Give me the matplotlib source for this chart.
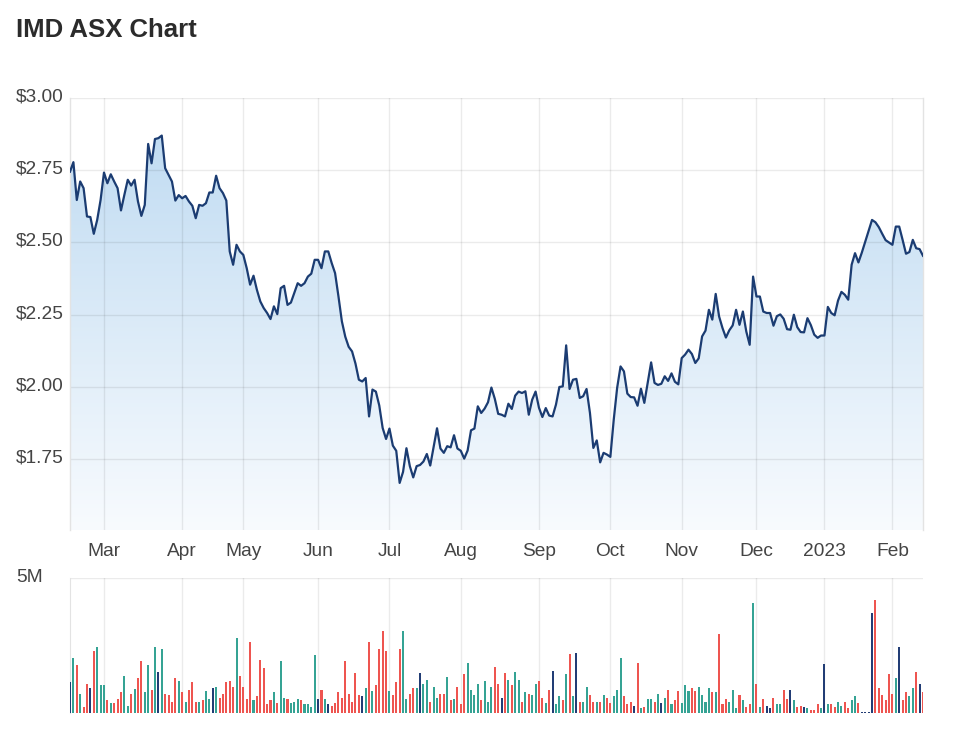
import numpy as np
import pandas as pd
import matplotlib
matplotlib.use("Agg")
import matplotlib.pyplot as plt
from matplotlib.colors import LinearSegmentedColormap
from matplotlib.transforms import blended_transform_factory

plt.rcParams['font.family'] = ['Liberation Sans', 'DejaVu Sans']

# trading calendar (ASX), one point per trading day
start_day = "2022-02-15"
end_day = "2023-02-14"
holidays = ["2022-04-15", "2022-04-18", "2022-04-25", "2022-06-13", "2022-09-22",
            "2022-12-26", "2022-12-27", "2023-01-02", "2023-01-26"]

# closing price, $
price = [
    2.745, 2.778, 2.647, 2.711, 2.688, 2.590, 2.588, 2.530, 2.578, 2.647,
    2.742, 2.705, 2.736, 2.711, 2.688, 2.611, 2.665, 2.717, 2.697, 2.717,
    2.642, 2.592, 2.630, 2.841, 2.774, 2.858, 2.861, 2.870, 2.757, 2.734,
    2.711, 2.645, 2.664, 2.653, 2.661, 2.642, 2.627, 2.584, 2.630, 2.627,
    2.636, 2.673, 2.673, 2.731, 2.688, 2.671, 2.645, 2.469, 2.423, 2.492,
    2.469, 2.457, 2.411, 2.354, 2.385, 2.336, 2.296, 2.273, 2.256, 2.235,
    2.279, 2.252, 2.342, 2.350, 2.284, 2.292, 2.325, 2.359, 2.350, 2.359,
    2.382, 2.392, 2.440, 2.440, 2.411, 2.469, 2.469, 2.429, 2.394, 2.313,
    2.227, 2.174, 2.139, 2.123, 2.081, 2.025, 2.019, 2.031, 1.898, 1.991,
    1.984, 1.936, 1.858, 1.820, 1.856, 1.797, 1.779, 1.668, 1.706, 1.788,
    1.726, 1.687, 1.726, 1.730, 1.742, 1.768, 1.728, 1.793, 1.857, 1.787,
    1.772, 1.795, 1.791, 1.833, 1.787, 1.779, 1.752, 1.780, 1.850, 1.856,
    1.933, 1.910, 1.925, 1.947, 1.998, 1.959, 1.907, 1.904, 1.898, 1.942,
    1.924, 1.970, 1.984, 1.979, 1.985, 1.904, 1.956, 1.984, 1.928, 1.896,
    1.927, 1.901, 1.898, 1.939, 2.000, 2.002, 2.144, 1.993, 2.025, 2.028,
    1.962, 1.968, 1.993, 1.910, 1.789, 1.815, 1.739, 1.772, 1.766, 1.758,
    1.887, 1.997, 2.071, 2.054, 1.977, 1.965, 1.964, 1.935, 1.994, 1.945,
    2.016, 2.085, 2.014, 2.007, 2.011, 2.037, 2.021, 2.047, 2.018, 2.009,
    2.100, 2.112, 2.129, 2.114, 2.083, 2.099, 2.175, 2.195, 2.267, 2.233,
    2.322, 2.244, 2.204, 2.171, 2.196, 2.213, 2.267, 2.215, 2.261, 2.192,
    2.146, 2.382, 2.313, 2.313, 2.261, 2.256, 2.256, 2.212, 2.245, 2.251,
    2.236, 2.200, 2.198, 2.250, 2.207, 2.190, 2.189, 2.238, 2.214, 2.181,
    2.170, 2.178, 2.178, 2.277, 2.256, 2.248, 2.299, 2.329, 2.319, 2.302,
    2.423, 2.463, 2.431, 2.465, 2.503, 2.541, 2.578, 2.570, 2.553, 2.530,
    2.508, 2.500, 2.492, 2.555, 2.555, 2.509, 2.461, 2.467, 2.509, 2.480,
    2.477, 2.454,
]

# daily volume, millions of shares
volume_m = [
    1.13, 2.02, 1.77, 0.72, 0.21, 1.07, 0.92, 2.28, 2.43, 1.03,
    1.03, 0.47, 0.36, 0.36, 0.51, 0.77, 1.36, 0.27, 0.72, 0.88,
    1.28, 1.92, 0.77, 1.77, 0.87, 2.43, 1.51, 2.38, 0.72, 0.67,
    0.42, 1.28, 1.18, 0.77, 0.42, 0.87, 1.13, 0.42, 0.42, 0.47,
    0.82, 0.51, 0.92, 0.97, 0.57, 0.72, 1.13, 1.18, 0.97, 2.78,
    1.38, 0.97, 0.51, 2.63, 0.47, 0.62, 1.98, 1.67, 0.32, 0.47,
    0.77, 0.37, 1.92, 0.57, 0.52, 0.37, 0.42, 0.52, 0.47, 0.32,
    0.32, 0.22, 2.13, 0.52, 0.87, 0.52, 0.32, 0.27, 0.37, 0.77,
    0.57, 1.92, 0.72, 0.42, 1.48, 0.67, 0.62, 0.92, 2.63, 0.82,
    1.02, 2.38, 3.03, 2.28, 0.82, 0.67, 1.13, 2.38, 3.03, 0.52,
    0.72, 0.92, 0.92, 1.48, 1.07, 1.23, 0.42, 0.97, 0.57, 0.72,
    0.72, 1.33, 0.47, 0.52, 0.97, 0.32, 1.43, 1.87, 0.87, 0.67,
    1.07, 0.47, 1.18, 0.42, 0.97, 1.72, 1.08, 0.57, 1.48, 1.23,
    1.03, 1.53, 1.23, 0.42, 0.77, 0.72, 0.67, 1.08, 1.18, 0.57,
    0.37, 0.87, 1.57, 0.32, 0.62, 0.47, 1.43, 2.18, 0.62, 2.22,
    0.42, 0.42, 0.97, 0.67, 0.42, 0.42, 0.42, 0.67, 0.57, 0.37,
    0.62, 0.87, 2.02, 0.62, 0.32, 0.42, 0.27, 1.87, 0.17, 0.22,
    0.52, 0.52, 0.42, 0.72, 0.37, 0.57, 0.87, 0.32, 0.47, 0.82,
    0.37, 1.02, 0.82, 0.92, 0.82, 0.97, 0.67, 0.42, 0.92, 0.77,
    0.77, 2.93, 0.32, 0.52, 0.42, 0.87, 0.17, 0.67, 0.47, 0.22,
    0.32, 4.09, 1.08, 0.22, 0.52, 0.27, 0.17, 0.57, 0.32, 0.32,
    0.87, 0.52, 0.87, 0.47, 0.22, 0.27, 0.22, 0.17, 0.12, 0.12,
    0.32, 0.17, 1.82, 0.32, 0.32, 0.22, 0.42, 0.27, 0.42, 0.17,
    0.47, 0.62, 0.37, 0.02, 0.02, 0.02, 3.70, 4.19, 0.92, 0.67,
    0.47, 1.43, 0.72, 1.28, 2.43, 0.47, 0.77, 0.62, 0.92, 1.53,
    1.08, 0.77,
]

# bar colour per day: r = down, g = up, n = other
direction = ("ngrgrrnrgg" "grgrrrggrg" "rrggrgngrr" "rrgrgrrrgr" "ggngrrrrrg"
             "rrrrgrrrrr" "grggrgggrg" "gggnrgnrrr" "rrrrrrngrg" "rrrrgrrrgg"
             "rrgnggrggr" "rgrgrrrggg" "grgggrrnrg" "rggrgrggrr" "grnggrgrgn"
             "rggrrgrgrr" "gggrrrnrgr" "ggrgngrgrr" "gggrrggggr" "grrrgggrgr"
             "rgrgrnnrgg" "rrngrrngrr" "rgngrrggrr" "ggrnnnnrrr" "rrrgnrrggr"
             "nr")

price_ticks = [1.75, 2.00, 2.25, 2.50, 2.75, 3.00]
volume_ticks = [5]

days = pd.bdate_range(start_day, end_day)
days = days[~days.isin(pd.to_datetime(holidays))]
x = np.arange(len(days))

month_pos = [i for i in range(1, len(days)) if days[i].month != days[i - 1].month]
month_lab = [str(days[i].year) if days[i].month == 1 else days[i].strftime("%b")
             for i in month_pos]

bar_colors = {"r": "#ee5550", "g": "#35a394", "n": "#223d75"}
text_col = "#444444"
fs = 13.8

W, H = 977, 751
fig = plt.figure(figsize=(W / 100, H / 100), dpi=100)
ax = fig.add_axes([70 / W, 1 - 530 / H, 853 / W, 432 / H])
axv = fig.add_axes([70 / W, 1 - 713 / H, 853 / W, 135 / H])

ymin, ymax = 1.505, 3.0

# gradient area under the price line
cmap = LinearSegmentedColormap.from_list("area", ["#f8fbfe", "#bcd9f1"])
grad = np.linspace(0, 1, 256).reshape(-1, 1)
im = ax.imshow(grad, extent=[0, len(x) - 1, ymin, ymax], origin="lower",
               aspect="auto", cmap=cmap, zorder=1, interpolation="bicubic")
area = ax.fill_between(x, price, ymin, color="none", lw=0)
im.set_clip_path(area.get_paths()[0], transform=ax.transData)
ax.plot(x, price, color="#1b3c72", lw=1.6, zorder=3, solid_joinstyle="round")

ax.set_xlim(0, len(x) - 1)
ax.set_ylim(ymin, ymax)
ax.set_yticks(price_ticks)
ax.set_yticklabels([])
ax.set_xticks(month_pos, month_lab)
ax.tick_params(axis="both", length=0)
ax.tick_params(axis="x", pad=9, labelsize=fs, labelcolor=text_col)
ax.grid(True, color="black", alpha=0.08, lw=1, zorder=2)
for s in ["top", "bottom"]:
    ax.spines[s].set_visible(False)
for s in ["left", "right"]:
    ax.spines[s].set_color("#e3e3e3")
    ax.spines[s].set_linewidth(1)

tr = blended_transform_factory(fig.transFigure, ax.transData)
for v in price_ticks:
    ax.text(16 / W, v + 0.004, f"\\${v:.2f}", transform=tr, ha="left", va="center",
            fontsize=fs, color=text_col)

# volume panel
axv.bar(x, volume_m, width=0.6, color=[bar_colors[c] for c in direction],
        zorder=3, linewidth=0)
axv.set_xlim(0, len(x) - 1)
axv.set_ylim(0, 5)
axv.set_yticks(volume_ticks)
axv.set_yticklabels([])
axv.set_xticks(month_pos)
axv.set_xticklabels([])
axv.tick_params(axis="both", length=0)
axv.grid(True, color="black", alpha=0.08, lw=1, zorder=1)
for s in ["top", "bottom", "right"]:
    axv.spines[s].set_visible(False)
axv.spines["left"].set_color("#e3e3e3")

trv = blended_transform_factory(fig.transFigure, axv.transData)
for v in volume_ticks:
    axv.text(16 / W, v + 0.02, f"{v}M", transform=trv, ha="left", va="center",
             fontsize=fs, color=text_col)

fig.text(16 / W, 1 - 30 / H, "IMD ASX Chart", fontsize=18.5, fontweight="bold",
         color="#2b2b2b", va="center", ha="left")

fig.savefig("out.png", dpi=100)
